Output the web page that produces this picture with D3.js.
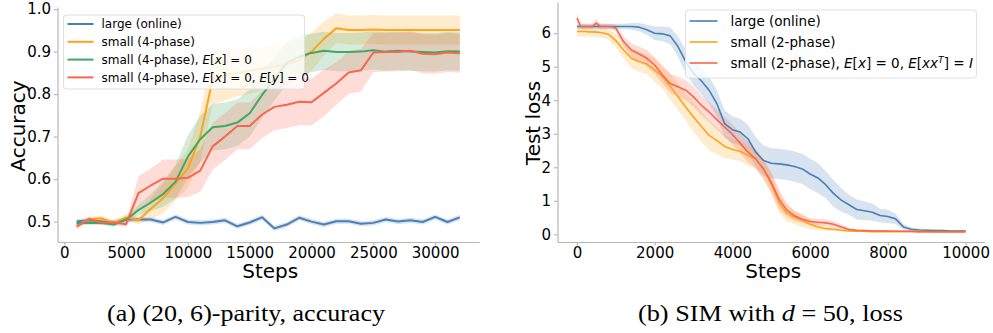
<!DOCTYPE html>
<meta charset="utf-8">
<style>
body { margin: 0; background: #fff; }
text { font-family: "DejaVu Sans", sans-serif; fill: #000; }
.tick line, .domain { stroke: #b8b8b8; stroke-width: 1.2px; }
.tick text { font-size: 15px; }
.caption { font-family: "Liberation Serif", serif; font-size: 24px; }
</style>
<svg width="993" height="333"></svg>
<script src="https://d3js.org/d3.v7.min.js"></script>
<script>

// (a) parity accuracy
var stepsA = [1000,2000,3000,4000,5000,6000,7000,8000,9000,10000,11000,12000,13000,14000,15000,16000,
  17000,18000,19000,20000,21000,22000,23000,24000,25000,26000,27000,28000,29000,30000,31000,32000];
var largeA = [0.500,0.503,0.500,0.497,0.505,0.505,0.505,0.498,0.511,0.499,0.497,0.499,0.503,0.489,0.498,0.510,
  0.484,0.493,0.509,0.500,0.493,0.501,0.501,0.495,0.497,0.505,0.500,0.503,0.499,0.511,0.499,0.510];
var largeSdA = [0.006,0.006,0.006,0.006,0.006,0.006,0.006,0.006,0.006,0.006,0.006,0.006,0.006,0.006,0.006,0.006,
  0.006,0.006,0.006,0.006,0.006,0.006,0.006,0.006,0.006,0.006,0.006,0.006,0.006,0.006,0.006,0.006];
var smallA = [0.492,0.505,0.508,0.497,0.510,0.503,0.530,0.555,0.590,0.625,0.700,0.835,0.845,0.850,0.855,0.860,
  0.865,0.870,0.880,0.900,0.930,0.955,0.951,0.951,0.952,0.951,0.951,0.951,0.951,0.951,0.951,0.951];
var smallSdA = [0.006,0.006,0.006,0.006,0.008,0.010,0.025,0.035,0.040,0.045,0.060,0.060,0.060,0.055,0.055,0.050,
  0.050,0.050,0.045,0.045,0.040,0.035,0.034,0.034,0.034,0.034,0.034,0.034,0.034,0.034,0.034,0.034];
var centXA = [0.497,0.497,0.497,0.493,0.505,0.527,0.545,0.565,0.594,0.653,0.694,0.722,0.725,0.733,0.755,0.798,
  0.835,0.874,0.888,0.897,0.902,0.899,0.899,0.900,0.903,0.900,0.902,0.900,0.899,0.898,0.901,0.900];
var centXSdA = [0.005,0.005,0.005,0.005,0.006,0.012,0.020,0.030,0.040,0.050,0.055,0.055,0.055,0.055,0.055,0.055,
  0.050,0.050,0.050,0.045,0.045,0.045,0.045,0.045,0.045,0.045,0.045,0.045,0.045,0.045,0.045,0.045];
var centXYA = [0.488,0.506,0.498,0.498,0.494,0.567,0.585,0.601,0.601,0.603,0.620,0.677,0.700,0.725,0.725,0.752,
  0.770,0.775,0.782,0.781,0.803,0.825,0.851,0.856,0.898,0.899,0.899,0.902,0.895,0.894,0.898,0.896];
var centXYSdA = [0.006,0.006,0.006,0.006,0.006,0.040,0.040,0.045,0.045,0.045,0.050,0.055,0.055,0.055,0.055,0.055,
  0.055,0.055,0.055,0.055,0.055,0.050,0.050,0.050,0.046,0.046,0.046,0.046,0.046,0.046,0.046,0.046];
var xTicksA = [0,5000,10000,15000,20000,25000,30000];
var yTicksA = [0.5,0.6,0.7,0.8,0.9,1.0];

// (b) SIM loss
var stepsB = [0,100,200,300,400,500,600,700,800,900,1000,
  1200,1400,1600,1800,2000,2200,2400,2600,2800,3000,3200,3400,3600,3800,4000,
  4200,4400,4600,4800,5000,5200,5400,5600,5800,6000,6200,6400,6600,6800,7000,
  7200,7400,7600,7800,8000,8200,8400,8600,8800,9000,9200,9400,9600,9800,10000];
var largeB = [6.2,6.2,6.2,6.2,6.2,6.2,6.2,6.2,6.2,6.2,6.2,
  6.2,6.2,6.18,6.1,6.0, 5.98,5.92,5.6,5.15,4.8, 4.58,4.3,3.9,3.3,3.12,
  3.05,2.85,2.45,2.2,2.12, 2.1,2.07,2.02,1.95,1.8, 1.68,1.48,1.22,1.02,0.88,
  0.74,0.70,0.66,0.56,0.53, 0.46,0.22,0.15,0.13,0.12, 0.11,0.11,0.10,0.10,0.10];
var largeSdB = [0.08,0.08,0.08,0.08,0.08,0.08,0.08,0.08,0.08,0.08,0.08,
  0.08,0.10,0.12,0.15,0.20, 0.22,0.25,0.30,0.35,0.35, 0.40,0.40,0.40,0.40,0.40,
  0.40,0.42,0.45,0.45,0.45, 0.45,0.45,0.45,0.45,0.45, 0.45,0.40,0.40,0.35,0.30,
  0.30,0.28,0.25,0.20,0.20, 0.15,0.08,0.05,0.04,0.03, 0.03,0.03,0.03,0.03,0.03];
var smallB = [6.05,6.05,6.05,6.04,6.04,6.03,6.02,6.0,5.97,5.88,5.78,
  5.5,5.25,5.15,5.08,4.9, 4.7,4.42,4.1,3.8,3.5, 3.22,2.95,2.8,2.62,2.53,
  2.48,2.35,2.25,1.95,1.5, 0.95,0.63,0.5,0.42,0.3, 0.22,0.17,0.15,0.12,0.1,
  0.09,0.09,0.08,0.08,0.08, 0.08,0.08,0.08,0.08,0.08, 0.07,0.07,0.07,0.07,0.07];
var smallSdB = [0.15,0.15,0.15,0.15,0.15,0.15,0.15,0.15,0.15,0.18,0.2,
  0.25,0.3,0.3,0.3,0.35, 0.35,0.4,0.4,0.4,0.45, 0.45,0.45,0.4,0.35,0.3,
  0.3,0.3,0.3,0.3,0.3, 0.3,0.25,0.2,0.2,0.15, 0.1,0.06,0.05,0.04,0.03,
  0.02,0.02,0.02,0.02,0.02, 0.02,0.02,0.02,0.02,0.02, 0.02,0.02,0.02,0.02,0.02];
var whiteB = [6.45,6.2,6.2,6.2,6.2,6.3,6.2,6.2,6.2,6.19,6.15,
  5.75,5.5,5.38,5.25,5.05, 4.75,4.5,4.4,4.3,4.1, 3.85,3.65,3.42,3.2,2.98,
  2.72,2.45,2.25,1.95,1.55, 1.05,0.72,0.55,0.45,0.38, 0.36,0.34,0.3,0.22,0.14,
  0.12,0.11,0.1,0.1,0.1, 0.09,0.09,0.09,0.08,0.08, 0.08,0.08,0.08,0.08,0.08];
var whiteSdB = [0.15,0.08,0.08,0.08,0.08,0.12,0.08,0.08,0.08,0.08,0.1,
  0.15,0.2,0.22,0.25,0.25, 0.25,0.28,0.3,0.3,0.3, 0.3,0.3,0.3,0.3,0.3,
  0.3,0.3,0.28,0.28,0.3, 0.3,0.2,0.15,0.12,0.1, 0.1,0.1,0.1,0.08,0.05,
  0.03,0.03,0.03,0.03,0.03, 0.02,0.02,0.02,0.02,0.02, 0.02,0.02,0.02,0.02,0.02];
var xTicksB = [0,2000,4000,6000,8000,10000];
var yTicksB = [0,1,2,3,4,5,6];

var blue = "#4a7fb8", orange = "#ffa31a", green = "#3fa865", red = "#f9664d";

var svg = d3.select("svg");

function panel(cfg) {
  var x = d3.scaleLinear().domain(cfg.xDomain).range(cfg.xRange);
  var y = d3.scaleLinear().domain(cfg.yDomain).range(cfg.yRange);
  var g = svg.append("g");

  cfg.series.forEach(function(s) {
    var pts = cfg.steps.map(function(t, i) { return {t: t, m: s.mean[i], sd: s.sd[i]}; });
    g.append("path")
      .datum(pts)
      .attr("fill", s.color)
      .attr("fill-opacity", 0.22)
      .attr("d", d3.area()
        .x(function(d) { return x(d.t); })
        .y0(function(d) { return y(d.m - d.sd); })
        .y1(function(d) { return y(d.m + d.sd); }));
  });
  cfg.series.forEach(function(s) {
    var pts = cfg.steps.map(function(t, i) { return {t: t, m: s.mean[i]}; });
    g.append("path")
      .datum(pts)
      .attr("fill", "none")
      .attr("stroke", s.color)
      .attr("stroke-width", cfg.lw)
      .attr("stroke-linejoin", "round")
      .attr("d", d3.line()
        .x(function(d) { return x(d.t); })
        .y(function(d) { return y(d.m); }));
  });

  g.append("g")
    .attr("transform", "translate(0," + cfg.yRange[0] + ")")
    .call(d3.axisBottom(x).tickValues(cfg.xTicks).tickSize(3.5).tickPadding(1.5).tickSizeOuter(0)
      .tickFormat(d3.format("d")));
  g.append("g")
    .attr("transform", "translate(" + cfg.xRange[0] + ",0)")
    .call(d3.axisLeft(y).tickValues(cfg.yTicks).tickSize(3.5).tickPadding(3).tickSizeOuter(0)
      .tickFormat(cfg.yFormat));
  g.selectAll(".tick text").attr("font-family", null).attr("font-size", null);

  g.append("text")
    .attr("x", (cfg.xRange[0] + cfg.xRange[1]) / 2 + 2)
    .attr("y", 278)
    .attr("text-anchor", "middle")
    .style("font-size", "20px")
    .text("Steps");
  g.append("text")
    .attr("transform", "translate(" + cfg.yLabelX + "," + cfg.yLabelY + ") rotate(-90)")
    .attr("text-anchor", "middle")
    .style("font-size", "20px")
    .text(cfg.yLabel);

  // legend
  var L = cfg.legend;
  g.append("rect")
    .attr("x", L.x).attr("y", L.y).attr("width", L.w).attr("height", L.h)
    .attr("rx", 3)
    .attr("fill", "#fff").attr("fill-opacity", 0.8)
    .attr("stroke", "#e0e0e0");
  cfg.series.forEach(function(s, i) {
    var ry = L.y + L.first + i * L.gap;
    g.append("line")
      .attr("x1", L.x + 4).attr("x2", L.x + 4 + L.lineLen)
      .attr("y1", ry).attr("y2", ry)
      .attr("stroke", s.color).attr("stroke-width", cfg.lw);
    var t = g.append("text")
      .attr("x", L.x + L.textDx).attr("y", ry)
      .attr("dy", "0.36em")
      .style("font-size", L.fs + "px");
    s.label.forEach(function(p) {
      var ts = t.append("tspan").text(p[0]);
      if (p[1] === "i") ts.style("font-style", "italic");
      if (p[1] === "sup") ts.style("font-style", "italic").style("font-size", (L.fs * 0.7) + "px").attr("dy", "-0.5em");
      if (p[1] === "down") ts.attr("dy", "0.35em");
    });
  });
}

panel({
  steps: stepsA,
  xDomain: [-550, 33550], xRange: [57.5, 479],
  yDomain: [0.452, 1.005], yRange: [242, 7],
  xTicks: xTicksA, yTicks: yTicksA, yFormat: d3.format(".1f"),
  yLabel: "Accuracy", yLabelX: 25, yLabelY: 126, lw: 2,
  series: [
    {mean: largeA, sd: largeSdA, color: blue, label: [["large (online)"]]},
    {mean: smallA, sd: smallSdA, color: orange, label: [["small (4-phase)"]]},
    {mean: centXA, sd: centXSdA, color: green,
      label: [["small (4-phase), "], ["E", "i"], ["["], ["x", "i"], ["] = 0"]]},
    {mean: centXYA, sd: centXYSdA, color: red,
      label: [["small (4-phase), "], ["E", "i"], ["["], ["x", "i"], ["] = 0, "], ["E", "i"], ["["], ["y", "i"], ["] = 0"]]}
  ],
  legend: {x: 63.5, y: 15, w: 241, h: 74, first: 9, gap: 17.8, lineLen: 26, textDx: 38, fs: 12}
});

panel({
  steps: stepsB,
  xDomain: [-500, 10500], xRange: [557.5, 985],
  yDomain: [-0.23, 6.93], yRange: [242, 2],
  xTicks: xTicksB, yTicks: yTicksB, yFormat: d3.format("d"),
  yLabel: "Test loss", yLabelX: 540, yLabelY: 123, lw: 1.6,
  series: [
    {mean: largeB, sd: largeSdB, color: blue, label: [["large (online)"]]},
    {mean: smallB, sd: smallSdB, color: orange, label: [["small (2-phase)"]]},
    {mean: whiteB, sd: whiteSdB, color: red,
      label: [["small (2-phase), "], ["E", "i"], ["["], ["x", "i"], ["] = 0, "], ["E", "i"], ["["], ["xx", "i"], ["T", "sup"], ["] = ", "down"], ["I", "i"]]}
  ],
  legend: {x: 685.5, y: 10, w: 291, h: 68, first: 11, gap: 21, lineLen: 28, textDx: 45, fs: 13.5}
});

// captions
svg.append("text").attr("class", "caption")
  .attr("x", 107).attr("y", 321)
  .attr("textLength", 278).attr("lengthAdjust", "spacingAndGlyphs")
  .text("(a) (20, 6)-parity, accuracy");
var cb = svg.append("text").attr("class", "caption")
  .attr("x", 638).attr("y", 321)
  .attr("textLength", 265).attr("lengthAdjust", "spacingAndGlyphs");
cb.append("tspan").text("(b) SIM with ");
cb.append("tspan").style("font-style", "italic").text("d");
cb.append("tspan").text(" = 50, loss");

</script>
